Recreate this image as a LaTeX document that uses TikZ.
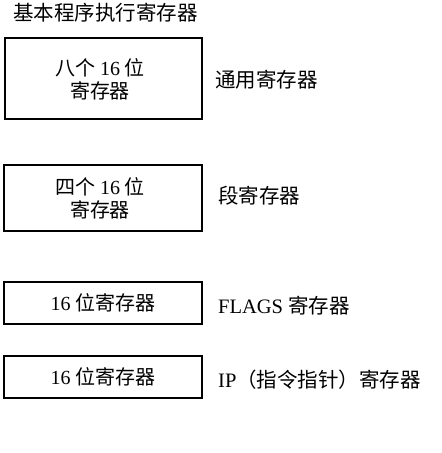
\documentclass[tikz,border=0pt]{standalone}
\usepackage{fontspec}
\setmainfont{Liberation Serif}
\newfontfamily\cjk{Noto Sans CJK SC}
\begin{document}
\begin{tikzpicture}[x=1pt,y=-1pt,
  regbox/.style={draw,line width=1.4pt,inner sep=0pt},
  lbl/.style={anchor=west,inner sep=0pt,font=\fontsize{20.5}{21}\selectfont},
  boxtxt/.style={align=center,font=\fontsize{20}{23}\selectfont}]
\useasboundingbox (0,0) rectangle (442,453);
\node[anchor=west,inner sep=0pt,font=\fontsize{20.5}{21}\selectfont] (title) at (13,13) {\cjk 基本程序执行寄存器};
\node[regbox,minimum width=197pt,minimum height=81pt] (b1) at (103.5,78.5) {};
\node[regbox,minimum width=198pt,minimum height=66pt] (b2) at (103,198) {};
\node[regbox,minimum width=198pt,minimum height=42pt] (b3) at (103,303) {};
\node[regbox,minimum width=198pt,minimum height=42pt] (b4) at (103,377) {};
\node[boxtxt] (t1) at (100,79) {{\cjk 八个} 16 {\cjk 位}\\{\cjk 寄存器}};
\node[boxtxt] (t2) at (100,198) {{\cjk 四个} 16 {\cjk 位}\\{\cjk 寄存器}};
\node[boxtxt] (t3) at (b3.center) {16 {\cjk 位寄存器}};
\node[boxtxt] (t4) at (b4.center) {16 {\cjk 位寄存器}};
\node[lbl] (l1) at (215,80) {\cjk 通用寄存器};
\node[lbl] (l2) at (218,196) {\cjk 段寄存器};
\node[lbl] (l3) at (218,306) {FLAGS {\cjk 寄存器}};
\node[lbl] (l4) at (218,380) {IP{\cjk （指令指针）寄存器}};
\end{tikzpicture}
\end{document}
